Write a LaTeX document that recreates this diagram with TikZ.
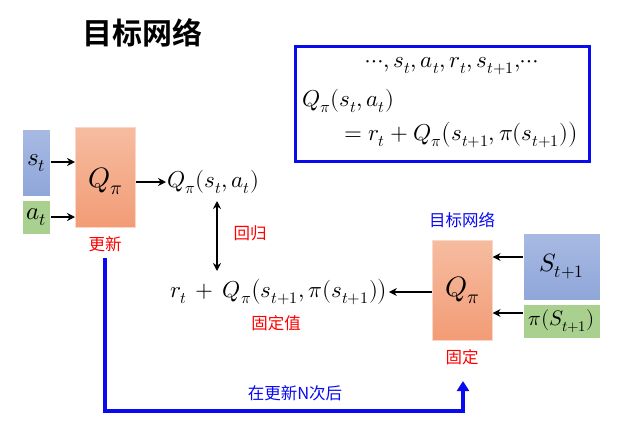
\documentclass[tikz,border=0pt]{standalone}
\usepackage{fontspec}
\usepackage{unicode-math}
\setmathfont{Latin Modern Math}
\newfontfamily\cjk{Noto Sans CJK SC}
\newfontfamily\cjkb{Noto Sans CJK SC Bold}
\usetikzlibrary{arrows.meta}
\definecolor{bluebox}{HTML}{8FA6D9}
\definecolor{blueboxtop}{HTML}{A8BAE3}
\definecolor{orangetop}{HTML}{F6BCA0}
\definecolor{orangebot}{HTML}{F29C76}
\definecolor{greenbox}{HTML}{A9D08E}
\definecolor{deepblue}{HTML}{0A0AF0}
\begin{document}
\begin{tikzpicture}[x=1pt,y=-1pt,
  sbox/.style={draw=white,line width=0.6pt,top color=blueboxtop,bottom color=bluebox,inner sep=0pt,anchor=north west},
  gbox/.style={draw=white,line width=0.6pt,fill=greenbox,inner sep=0pt,anchor=north west},
  qbox/.style={draw=orangetop!60,line width=0.6pt,top color=orangetop,bottom color=orangebot,inner sep=0pt,anchor=north west},
  arr/.style={-{Stealth[length=8pt,width=8pt]},line width=2.2pt},
  redlab/.style={text=red,font=\cjk\fontsize{16.5}{18}\selectfont},
  bluelab/.style={text=deepblue,font=\cjk\fontsize{16.5}{18}\selectfont},
  mth/.style={font=\fontsize{23}{26}\selectfont,inner sep=1pt}]
\useasboundingbox (0,0) rectangle (641,429);
% title
\node[font=\cjkb\fontsize{30}{32}\selectfont] (title) at (142,33) {目标网络};
% formula box
\node[draw=deepblue,line width=2.8pt,minimum width=294pt,minimum height=115pt,inner sep=0pt,anchor=north west] (fbox) at (294,45) {};
\node[mth] (f1) at (452,66) {$\cdots\!,s_t,a_t,r_t,s_{t+1},\!\cdots$};
\node[mth,anchor=west] (f2) at (301,101) {$Q_\pi(s_t,a_t)$};
\node[mth,anchor=west] (f3) at (343,135) {$=r_t+Q_\pi\bigl(s_{t+1},\pi(s_{t+1})\bigr)$};
% left network
\node[sbox,minimum width=28pt,minimum height=67pt] (st) at (22,129) {};
\node[mth,font=\fontsize{25}{27}\selectfont] at (st.center) {$s_t$};
\node[gbox,minimum width=28pt,minimum height=34pt] (at) at (22,200) {};
\node[mth,font=\fontsize{25}{27}\selectfont] at (at.center) {$a_t$};
\node[qbox,minimum width=60pt,minimum height=100pt] (q1) at (75,127) {};
\node[font=\fontsize{28}{30}\selectfont] at ([yshift=-4pt]q1.center) {$Q_\pi$};
\draw[arr] (st.east |- 0,162) -- (q1.west |- 0,162);
\draw[arr] (at.east |- 0,217) -- (q1.west |- 0,217);
\node[mth,anchor=west] (qsa) at (166,182) {$Q_\pi(s_t,a_t)$};
\draw[arr] (q1.east |- 0,182) -- (qsa.west);
\node[redlab] (upd) at (105,244) {更新};
% regression
\node[mth] (target) at (279,292) {$r_t\,+\,Q_\pi\bigl(s_{t+1},\pi(s_{t+1})\bigr)$};
\coordinate (va) at (217,201);
\coordinate (vb) at (217,271);
\draw[{Stealth[length=8pt,width=8pt]}-{Stealth[length=8pt,width=8pt]},line width=2.2pt] (va) -- (vb);
\node[redlab] (reg) at (250,233) {回归};
\node[redlab] (fixv) at (276,323) {固定值};
% target network
\node[qbox,minimum width=60pt,minimum height=100pt] (q2) at (432,240) {};
\node[font=\fontsize{28}{30}\selectfont] at (q2.center) {$Q_\pi$};
\node[bluelab] (tn) at (462,220) {目标网络};
\node[sbox,minimum width=77pt,minimum height=67pt] (s1) at (523,233) {};
\node[mth,font=\fontsize{25}{27}\selectfont] at (s1.center) {$S_{t+1}$};
\node[gbox,minimum width=77pt,minimum height=34pt] (p1) at (523,304) {};
\node[mth,font=\fontsize{21}{23}\selectfont] at (p1.center) {$\pi(S_{t+1})$};
\draw[arr] (s1.west |- 0,257) -- (q2.east |- 0,257);
\draw[arr] (p1.west |- 0,313) -- (q2.east |- 0,313);
\draw[arr] (q2.west |- 0,292) -- (target.east);
\node[redlab] (fix) at (462,357) {固定};
% update path
\coordinate (pathend) at (463,381);
\draw[deepblue,line width=3.8pt,-{Triangle[length=10pt,width=12pt]}] (105,258) -- (105,411) -- (463,411) -- (pathend);
\node[bluelab] (nlab) at (295,393) {在更新N次后};
\end{tikzpicture}
\end{document}
